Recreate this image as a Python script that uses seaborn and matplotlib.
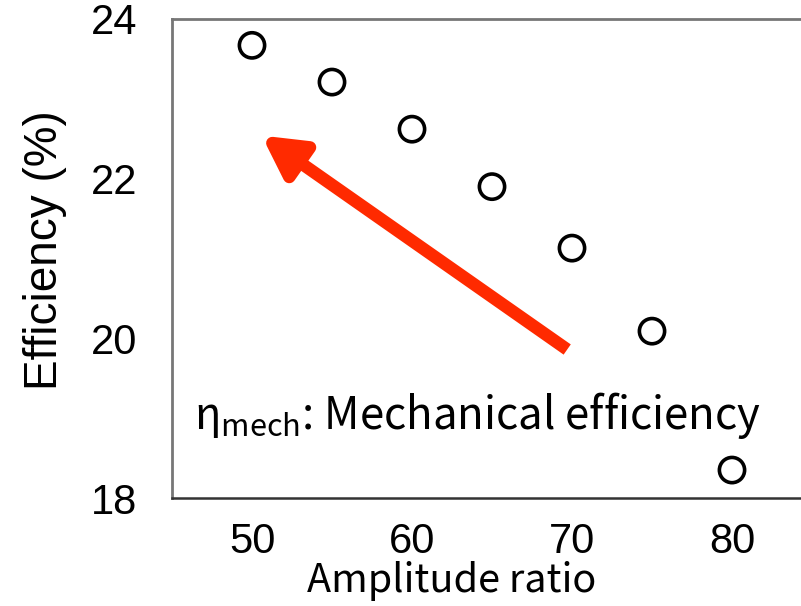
import numpy as np
import pandas as pd
import matplotlib
matplotlib.use('Agg')
import matplotlib.pyplot as plt
import seaborn as sns

# 데이터
amplitude_ratio = [50, 55, 60, 65, 70, 75, 80]
efficiency = [23.67, 23.21, 22.62, 21.90, 21.13, 20.09, 18.35]
x_ticks = [50, 60, 70, 80]
y_ticks = [18, 20, 22, 24]

df = pd.DataFrame({'amp': amplitude_ratio, 'eff': efficiency})

sns.set_style('white')
plt.rcParams['font.family'] = ['Liberation Sans', 'DejaVu Sans']
plt.rcParams['text.color'] = 'black'
plt.rcParams['axes.labelcolor'] = 'black'
plt.rcParams['xtick.color'] = 'black'
plt.rcParams['ytick.color'] = 'black'

jp_font = ['Noto Sans CJK JP', 'DejaVu Sans']

fig = plt.figure(figsize=(8.01, 6.06), dpi=100)
# 오른쪽은 그림 밖으로 잘림
ax = fig.add_axes([172 / 801, 108 / 606, 640 / 801, 479 / 606])

sns.scatterplot(data=df, x='amp', y='eff', ax=ax, marker='o', s=330,
                facecolor='none', edgecolor='black', linewidth=2.6, zorder=3)

ax.set_xlim(45, 85)
ax.set_ylim(18, 24)
ax.set_xticks(x_ticks)
ax.set_yticks(y_ticks)
ax.tick_params(direction='in', length=4, width=1, color='#aaaaaa', labelsize=30)
ax.tick_params(axis='x', pad=17)
ax.tick_params(axis='y', pad=25)

ax.set_xlabel('Amplitude ratio', fontsize=28.5, family=jp_font, va='baseline')
ax.xaxis.set_label_coords(0.4375, -0.196)
ax.set_ylabel('Efficiency (%)', fontsize=33, va='center')
ax.yaxis.set_label_coords(-0.198, 0.518)

for side in ['left', 'top']:
    ax.spines[side].set_color('#777777')
    ax.spines[side].set_linewidth(2)
ax.spines['bottom'].set_color('#333333')
ax.spines['bottom'].set_linewidth(1.8)
ax.spines['right'].set_visible(False)

# 빨간 화살표
ax.annotate('', xy=(50.6, 22.54), xytext=(69.7, 19.86),
            arrowprops=dict(arrowstyle='-|>,head_length=2.4,head_width=1.3',
                            color='#ff2a00', lw=9, shrinkA=0, shrinkB=0,
                            joinstyle='round', capstyle='butt'))

ax.text(46.4, 19.03, r'$\mathregular{\eta_{mech}}$: Mechanical efficiency',
        fontsize=31.5, family=jp_font, va='center')

fig.savefig('out.png', dpi=100)
